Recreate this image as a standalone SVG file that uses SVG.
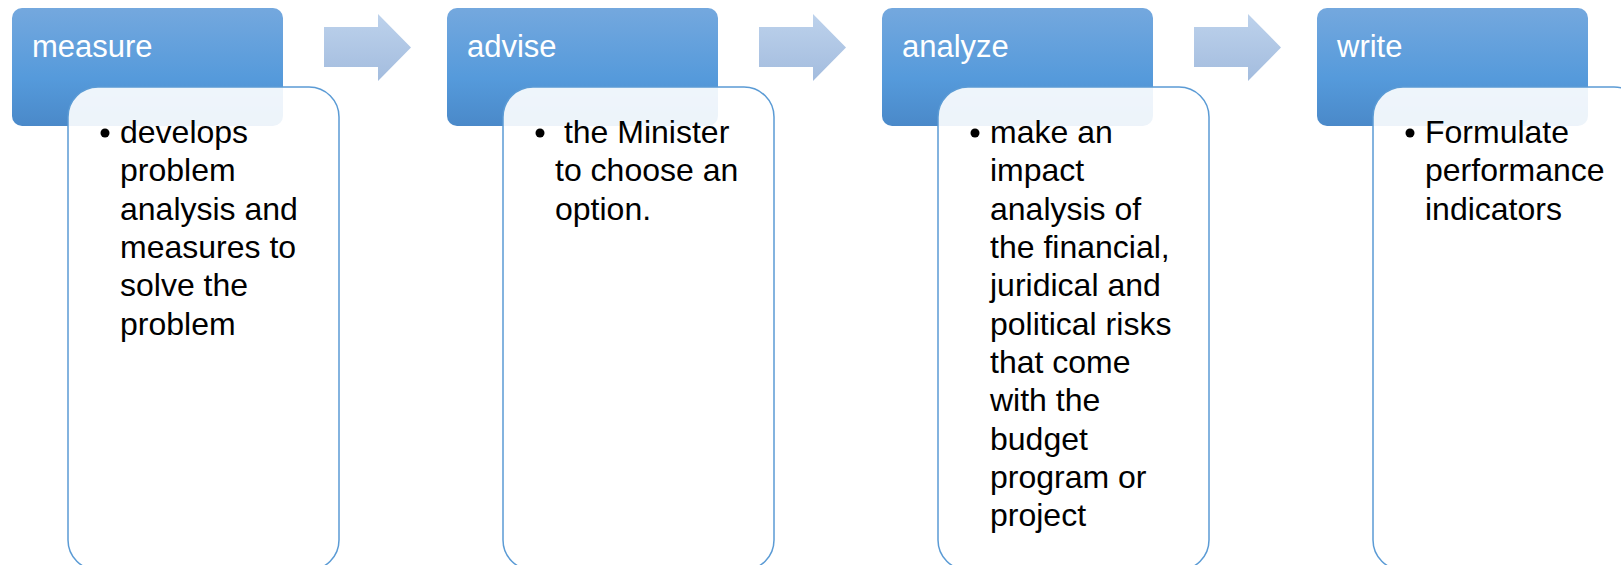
<svg xmlns="http://www.w3.org/2000/svg" width="1621" height="565" viewBox="0 0 1621 565">
<defs>
<linearGradient id="hg" x1="0" y1="0" x2="0" y2="1">
<stop offset="0" stop-color="#74A8DE"/>
<stop offset="0.6" stop-color="#559ADB"/>
<stop offset="1" stop-color="#4A89C9"/>
</linearGradient>
<linearGradient id="ag" x1="0" y1="0" x2="0" y2="1">
<stop offset="0" stop-color="#BDD2EC"/>
<stop offset="1" stop-color="#A3BCDE"/>
</linearGradient>
<path id="arr" d="M0,13 H54 V0 L87,33.5 L54,67 V53 H0 Z"/>
</defs>
<style>
.hdr{fill:url(#hg);}
.body{fill:#FFFFFF;fill-opacity:0.9;stroke:#5B9BD5;stroke-width:1.5;}
.ht{font-family:"Liberation Sans",Arial,sans-serif;font-size:31px;fill:#FFFFFF;}
.bt{font-family:"Liberation Sans",Arial,sans-serif;font-size:32px;fill:#000000;}
.arrow{fill:url(#ag);}
</style>
<g id="connectors">
<use href="#arr" class="arrow" x="324" y="14"/>
<use href="#arr" class="arrow" x="759" y="14"/>
<use href="#arr" class="arrow" x="1194" y="14"/>
</g>
<g id="node-measure">
<rect class="hdr" x="12" y="8" width="271" height="118" rx="10"/>
<text class="ht" x="32" y="57">measure</text>
<rect class="body" x="68" y="87" width="271" height="483" rx="30"/>
<circle cx="105" cy="133" r="4.5"/>
<text class="bt" x="120" y="143">develops</text>
<text class="bt" x="120" y="181">problem</text>
<text class="bt" x="120" y="220">analysis and</text>
<text class="bt" x="120" y="258">measures to</text>
<text class="bt" x="120" y="296">solve the</text>
<text class="bt" x="120" y="335">problem</text>
</g>
<g id="node-advise">
<rect class="hdr" x="447" y="8" width="271" height="118" rx="10"/>
<text class="ht" x="467" y="57">advise</text>
<rect class="body" x="503" y="87" width="271" height="483" rx="30"/>
<circle cx="540" cy="133" r="4.5"/>
<text class="bt" x="555" y="143" xml:space="preserve"> the Minister</text>
<text class="bt" x="555" y="181">to choose an</text>
<text class="bt" x="555" y="220">option.</text>
</g>
<g id="node-analyze">
<rect class="hdr" x="882" y="8" width="271" height="118" rx="10"/>
<text class="ht" x="902" y="57">analyze</text>
<rect class="body" x="938" y="87" width="271" height="483" rx="30"/>
<circle cx="975" cy="133" r="4.5"/>
<text class="bt" x="990" y="143">make an</text>
<text class="bt" x="990" y="181">impact</text>
<text class="bt" x="990" y="220">analysis of</text>
<text class="bt" x="990" y="258">the financial,</text>
<text class="bt" x="990" y="296">juridical and</text>
<text class="bt" x="990" y="335">political risks</text>
<text class="bt" x="990" y="373">that come</text>
<text class="bt" x="990" y="411">with the</text>
<text class="bt" x="990" y="450">budget</text>
<text class="bt" x="990" y="488">program or</text>
<text class="bt" x="990" y="526">project</text>
</g>
<g id="node-write">
<rect class="hdr" x="1317" y="8" width="271" height="118" rx="10"/>
<text class="ht" x="1337" y="57">write</text>
<rect class="body" x="1373" y="87" width="271" height="483" rx="30"/>
<circle cx="1410" cy="133" r="4.5"/>
<text class="bt" x="1425" y="143">Formulate</text>
<text class="bt" x="1425" y="181">performance</text>
<text class="bt" x="1425" y="220">indicators</text>
</g>
</svg>
